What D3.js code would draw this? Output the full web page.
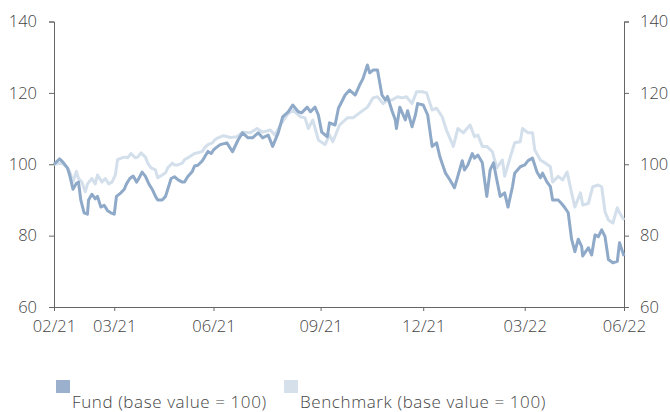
<!DOCTYPE html>
<html>
<head>
<meta charset="utf-8">
<script src="https://cdn.jsdelivr.net/npm/d3@7"></script>
<style>
  body { margin: 0; background: #fff; }
  svg text { font-family: "Open Sans", Lato, sans-serif; font-weight: 300; fill: #444; }
</style>
</head>
<body>
<div id="chart"></div>
<script>
// days since the first point
const fundDays = [0,5,8,12,14,17,20,22,24,27,30,31,34,37,39,42,45,48,51,54,56,60,63,65,68,71,74,76,79,82,85,88,91,93,97,100,102,105,108,111,115,117,120,124,126,129,133,135,138,141,143,146,149,155,160,165,169,174,178,183,187,192,196,201,205,210,214,219,222,227,230,234,237,240,245,247,252,255,261,265,270,274,277,281,283,286,290,294,297,299,303,306,307,310,315,317,321,324,326,331,335,339,343,346,351,355,359,362,366,368,371,375,377,380,384,386,388,391,394,397,400,404,407,411,413,418,422,425,429,433,436,438,442,445,447,452,455,458,461,464,467,470,473,474,479,482,485,488,491,494,497,501,505,507,511];
const fundValues = [100,101.5,100.6,99,97,93,94.6,95,90,86.4,86,90,91.6,90.3,91,88,88.5,87,86.4,86,91,92,93,94.5,96,96.7,95,96,97.8,96.6,94.5,93,91,90,90,91,93,96,96.5,95.7,95,95,96.6,98,99.5,99.7,101,102,103.6,103,104,104.8,105.5,106,103.5,106.8,108.8,107.4,107.4,108.8,107.4,108.2,105,108.8,113.3,114.7,116.6,114.7,114.4,116,114.7,116,113.8,109,107.7,111.6,111,115.7,119.4,120.8,119.4,122.2,124,127.8,125.6,126.4,126.4,119.4,118,119,115,112.4,110,116,112.4,115,110.5,113.8,117,116.6,113.8,105,106,102,97.5,95.6,93.4,96.6,101,98.4,99.8,103,101.7,102.6,100.4,95.6,91,98.4,100.4,95.6,91,92,88,93.7,97.5,99.3,99.8,101,101.7,97.8,96.2,97.5,95,93.7,90,90,89,87.8,86.4,79,75.5,79,77,74.3,76.6,74.6,80.2,79.7,81.6,79.7,73.3,72.4,72.8,78,74.3];

const benchDays = [0,7,12,14,17,20,22,25,28,30,34,37,39,43,46,49,52,55,57,61,64,66,69,73,75,78,82,84,87,91,93,97,100,102,106,108,111,115,117,120,124,126,129,133,135,138,142,144,147,152,158,164,169,176,182,187,194,198,203,209,214,221,225,228,232,237,243,247,250,256,263,268,274,281,286,290,295,299,303,308,312,316,321,325,330,334,339,343,348,352,358,362,367,373,377,380,384,388,393,397,402,404,409,413,418,420,425,429,431,436,440,445,447,452,456,460,464,467,472,474,479,483,488,491,494,497,501,505,507,511];
const benchValues = [100,100.3,99,98,95,98,96,95,92.3,94.5,96,94.5,97,95,96,94.5,95,97,101.3,101.8,102,101.8,103,101.8,102,103.2,102,100.3,99,98.4,96.2,97,97.6,99,100.3,99.8,99.8,100.3,101.3,101.8,102.6,103,103.2,103.6,104.6,105.5,106,106.8,107.4,108,107.5,107.7,109,108.8,110,109,109.6,108.2,111,113.8,115.2,113.3,113,110,112.4,106.8,105.5,108.2,106.3,111,113,113,114.4,116,118.6,118.9,117,118,118,118.9,118.6,118.9,117,120.3,120.3,120,115.2,115.7,113.3,109.4,105,110,108.8,111,107.7,108.2,105,105,103.5,99,101.2,96.6,102,106,106.3,110,108.8,108.8,104,101.2,100.4,99.3,95,96.6,95.6,97.8,92,88,92,88.6,89,93.7,94.2,93.7,86.7,84.4,83.5,87.8,86.4,84.4];

const tickDays = [0,54,143,239,331,422,511];
const tickLabels = ["02/21","03/21","06/21","09/21","12/21","03/22","06/22"];
const yTicks = [60,80,100,120,140];
const seriesNames = ["Fund (base value = 100)", "Benchmark (base value = 100)"];

const width = 670;
const height = 412;
const plotLeft = 54, plotRight = 624, plotTop = 21.5, plotBottom = 307;
const fundColor = "#8fa9c8";
const benchColor = "#d3dfeb";
const axisColor = "#666";

const svg = d3.select("#chart")
              .append("svg")
              .attr("width", width)
              .attr("height", height);

const xScale = d3.scaleLinear().domain([0, 511]).range([plotLeft, plotRight]);
const yScale = d3.scaleLinear().domain([60, 140]).range([plotBottom, plotTop]);

// axes
const xAxis = d3.axisBottom(xScale)
                .tickValues(tickDays)
                .tickFormat((d, i) => tickLabels[i])
                .tickSize(4).tickPadding(9);
const yAxisL = d3.axisLeft(yScale).tickValues(yTicks).tickSize(5).tickPadding(12);
const yAxisR = d3.axisRight(yScale).tickValues(yTicks).tickSize(5).tickPadding(11);

function styleAxis(g) {
    g.attr("font-family", null);
    g.select(".domain").attr("stroke", axisColor);
    g.selectAll(".tick line").attr("stroke", axisColor);
    g.selectAll(".tick text").attr("font-size", "16.5px").attr("fill", "#444");
}

svg.append("g").attr("transform", "translate(0," + plotBottom + ")").call(xAxis).call(styleAxis);
svg.append("g").attr("transform", "translate(" + plotLeft + ",0)").call(yAxisL).call(styleAxis);
svg.append("g").attr("transform", "translate(" + plotRight + ",0)").call(yAxisR).call(styleAxis);

// lines
const line = d3.line()
               .x(d => xScale(d[0]))
               .y(d => yScale(d[1]));

svg.append("path")
   .datum(d3.zip(benchDays, benchValues))
   .attr("fill", "none")
   .attr("stroke", benchColor)
   .attr("stroke-width", 3)
   .attr("stroke-linejoin", "round")
   .attr("d", line);

svg.append("path")
   .datum(d3.zip(fundDays, fundValues))
   .attr("fill", "none")
   .attr("stroke", fundColor)
   .attr("stroke-width", 3)
   .attr("stroke-linejoin", "round")
   .attr("d", line);

// handmade legend
const legend = [
    { name: seriesNames[0], color: "#9ab0cc", x: 56 },
    { name: seriesNames[1], color: "#d6e0eb", x: 284 }
];
legend.forEach(l => {
    svg.append("rect").attr("x", l.x).attr("y", 380).attr("width", 14).attr("height", 13).attr("fill", l.color);
    svg.append("text").attr("x", l.x + 16).attr("y", 408)
       .attr("font-size", "17px").attr("letter-spacing", "0.6px").text(l.name);
});
</script>
</body>
</html>
